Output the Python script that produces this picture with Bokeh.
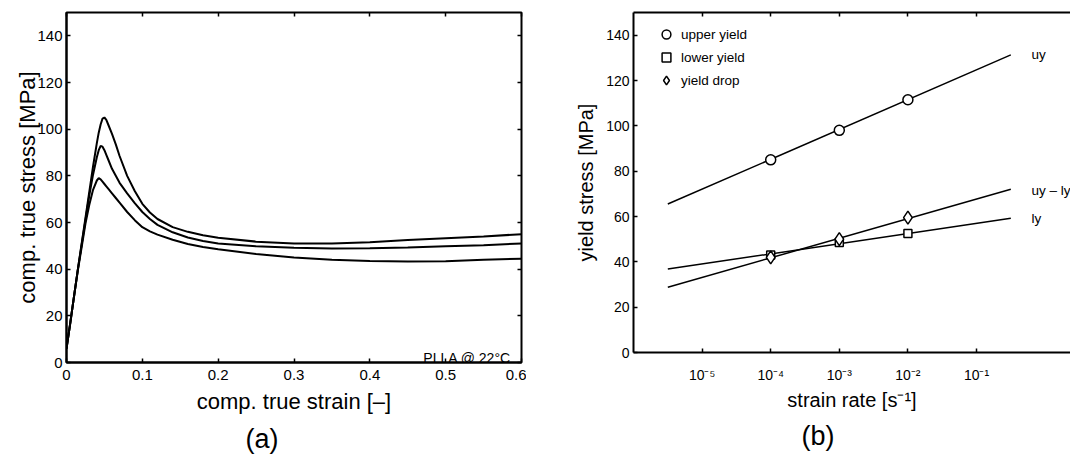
from bokeh.plotting import figure
from bokeh.models import (Range1d, LinearAxis, LogAxis, FixedTicker, Label,
                          Legend, LegendItem, BasicTickFormatter, Title)
from bokeh.layouts import row
from bokeh.embed import file_html
from bokeh.resources import INLINE

FONT = "Liberation Sans"

# ---------------- data: panel (a) ----------------
strain = [0, 0.005, 0.01, 0.015, 0.02, 0.025, 0.03, 0.035, 0.04, 0.0425, 0.045,
          0.0475, 0.05, 0.0525, 0.055, 0.06, 0.065, 0.07, 0.08, 0.09, 0.10, 0.11,
          0.12, 0.14, 0.16, 0.18, 0.20, 0.25, 0.30, 0.35, 0.40, 0.45, 0.50, 0.55, 0.60]
stress_fast = [6, 17, 28.5, 40, 51, 62, 73, 84, 94, 98.5, 102, 104.5, 105, 104,
               102, 98, 93.5, 88.5, 80, 73.5, 68, 64.3, 61.5, 58, 56, 54.5, 53.5,
               51.8, 51, 51, 51.5, 52.5, 53.3, 54, 55]
stress_mid = [6, 17, 28.5, 40, 50.5, 61, 71.5, 80.5, 88, 91, 92.8, 92.5, 91, 89,
              87, 83, 80, 77, 72.5, 68.3, 64.5, 61.5, 59, 55.8, 53.6, 52.1, 51,
              49.8, 49.2, 48.9, 49, 49.3, 49.8, 50.3, 51]
stress_slow = [6, 17, 28.5, 39.5, 49.5, 59.5, 67.5, 74, 78, 79, 78.5, 77.5, 76.5,
               75.5, 74.5, 72.5, 70.5, 68.5, 64.5, 61, 58, 56.2, 54.8, 52.6, 50.8,
               49.5, 48.5, 46.5, 45, 44, 43.5, 43.3, 43.4, 44, 44.5]
strain_ticks = [0, 0.1, 0.2, 0.3, 0.4, 0.5, 0.6]
stress_ticks = [0, 20, 40, 60, 80, 100, 120, 140]

# ---------------- data: panel (b) ----------------
rates = [1e-4, 1e-3, 1e-2]
upper_yield = [85, 98, 111.5]
lower_yield = [43, 48.5, 52.5]
yield_drop = [42, 50, 59.5]
fit_rates = [10 ** -5.5, 10 ** -0.5]
upper_fit = [65.5, 131.3]
lower_fit = [36.8, 59.2]
drop_fit = [28.8, 72.0]
rate_ticks = [1e-5, 1e-4, 1e-3, 1e-2, 1e-1]
rate_tick_labels = ["10⁻⁵", "10⁻⁴", "10⁻³", "10⁻²", "10⁻¹"]
legend_labels = ["upper yield", "lower yield", "yield drop"]
line_labels = ["uy", "uy – ly", "ly"]


def style_axis(ax, size, label_size):
    ax.axis_line_width = 2
    ax.axis_line_color = "black"
    ax.major_tick_in = 4
    ax.major_tick_out = 0
    ax.major_tick_line_width = 1.5
    ax.major_tick_line_color = "black"
    ax.minor_tick_line_color = None
    ax.major_label_text_font = FONT
    ax.major_label_text_font_size = size
    ax.major_label_text_color = "black"
    ax.axis_label_text_font = FONT
    ax.axis_label_text_font_style = "normal"
    ax.axis_label_text_color = "black"
    ax.axis_label_text_font_size = label_size


def bare_axis(axis_cls, ticks, line=False):
    ax = axis_cls(ticker=FixedTicker(ticks=ticks), formatter=BasicTickFormatter())
    ax.major_label_text_font_size = "1px"
    ax.major_label_text_color = None
    ax.major_label_standoff = 0
    ax.axis_line_color = "black" if line else None
    ax.axis_line_width = 2
    ax.major_tick_in = 4
    ax.major_tick_out = 0
    ax.major_tick_line_width = 1.5
    ax.minor_tick_line_color = None
    return ax


def panel_title(text, offset):
    return Title(text=text, align="left", offset=offset, vertical_align="middle",
                 standoff=12, text_font=FONT, text_font_size="27px",
                 text_font_style="normal", text_color="black")


# ---------------- panel (a) ----------------
p1 = figure(frame_width=455, frame_height=350, x_range=Range1d(0, 0.6),
            y_range=Range1d(0, 150), output_backend="svg", toolbar_location=None,
            min_border_left=66, min_border_top=12, min_border_right=5,
            min_border_bottom=0)
p1.grid.visible = False
p1.outline_line_color = "black"
p1.outline_line_width = 2
for ys in (stress_fast, stress_mid, stress_slow):
    p1.line(strain, ys, line_color="black", line_width=2)

p1.xaxis.ticker = FixedTicker(ticks=strain_ticks)
p1.yaxis.ticker = FixedTicker(ticks=stress_ticks)
p1.xaxis.major_label_overrides = {0: "0"}
p1.xaxis.axis_label = "comp. true strain [–]"
p1.yaxis.axis_label = "comp. true stress [MPa]"
style_axis(p1.xaxis[0], "15px", "22px")
style_axis(p1.yaxis[0], "15px", "22px")
p1.xaxis.major_label_standoff = 7
p1.xaxis.axis_label_standoff = 6
p1.yaxis.major_label_standoff = 4
p1.yaxis.axis_label_standoff = -6
p1.add_layout(bare_axis(LinearAxis, strain_ticks), "above")
p1.add_layout(bare_axis(LinearAxis, stress_ticks), "right")

p1.add_layout(Label(x=0.586, y=1.8, text="PLLA @ 22°C", text_align="right",
                    text_baseline="alphabetic", text_font=FONT,
                    text_font_size="14px", text_color="black"))
p1.add_layout(panel_title("(a)", 179), "below")

# ---------------- panel (b) ----------------
p2 = figure(frame_width=437, frame_height=340, x_axis_type="log",
            x_range=Range1d(1e-6, 10 ** 0.37), y_range=Range1d(0, 150),
            output_backend="svg", toolbar_location=None,
            min_border_left=107, min_border_top=12, min_border_right=0,
            min_border_bottom=0)
p2.grid.visible = False
p2.outline_line_color = None

for ys in (upper_fit, lower_fit, drop_fit):
    p2.line(fit_rates, ys, line_color="black", line_width=1.5)

r_up = p2.scatter(rates, upper_yield, marker="circle", size=10, fill_color="white",
                  line_color="black", line_width=1.5)
r_lo = p2.scatter(rates, lower_yield, marker="square", size=8, fill_color="white",
                  line_color="black", line_width=1.5)
r_dr = p2.scatter(rates, yield_drop, marker="diamond", size=13, fill_color="white",
                  line_color="black", line_width=1.5)

p2.xaxis.ticker = FixedTicker(ticks=rate_ticks)
p2.xaxis.formatter = BasicTickFormatter()
p2.xaxis.major_label_overrides = dict(zip(rate_ticks, rate_tick_labels))
p2.yaxis.ticker = FixedTicker(ticks=stress_ticks)
p2.xaxis.axis_label = "strain rate [s⁻¹]"
p2.yaxis.axis_label = "yield stress [MPa]"
style_axis(p2.xaxis[0], "14px", "20px")
style_axis(p2.yaxis[0], "14px", "20px")
p2.xaxis.major_label_standoff = 14
p2.xaxis.axis_label_standoff = 3
p2.yaxis.major_label_standoff = 4
p2.yaxis.axis_label_standoff = 6
p2.add_layout(bare_axis(LogAxis, rate_ticks, line=True), "above")

legend = Legend(items=[LegendItem(label=legend_labels[0], renderers=[r_up]),
                       LegendItem(label=legend_labels[1], renderers=[r_lo]),
                       LegendItem(label=legend_labels[2], renderers=[r_dr])],
                location=(22, 261), margin=0, padding=0, glyph_width=22,
                glyph_height=22, label_height=22, spacing=1, label_standoff=4,
                border_line_color=None, background_fill_alpha=0,
                label_text_font=FONT, label_text_font_size="13.5px",
                label_text_color="black")
p2.add_layout(legend)

for txt, yv in zip(line_labels, [131.3, 71.5, 59.0]):
    p2.add_layout(Label(x=10 ** -0.2, y=yv, text=txt, text_align="left",
                        text_baseline="middle", text_font=FONT,
                        text_font_size="13.5px", text_color="black"))
p2.add_layout(panel_title("(b)", 168), "below")

layout = row(p1, p2)
open("out.html", "w").write(file_html(layout, INLINE))
